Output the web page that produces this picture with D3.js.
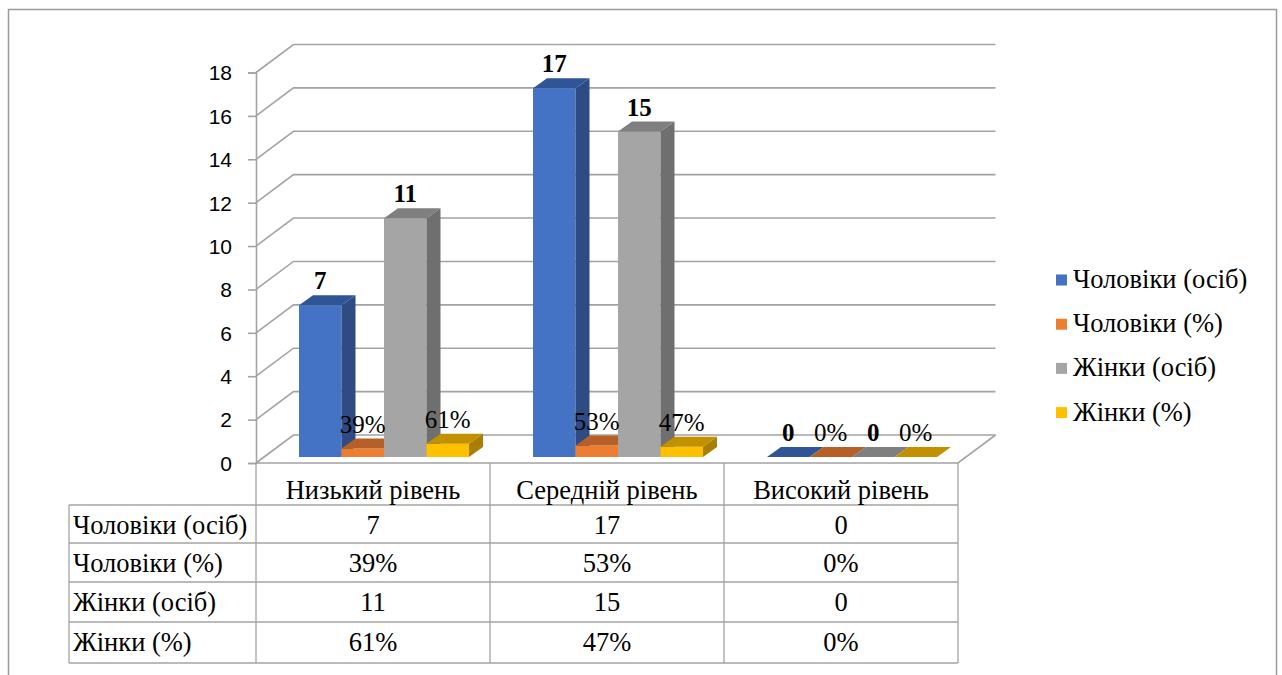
<!DOCTYPE html>
<html>
<head>
<meta charset="utf-8">
<script src="https://cdn.jsdelivr.net/npm/d3@7"></script>
<style>
  html, body { margin: 0; padding: 0; background: #fff; }
  svg { display: block; }
</style>
</head>
<body>
<svg id="chart" width="1282" height="675"></svg>
<script>
// Categories and series
const categories = ["Низький рівень", "Середній рівень", "Високий рівень"];
const seriesNames = ["Чоловіки (осіб)", "Чоловіки (%)", "Жінки (осіб)", "Жінки (%)"];
const menCount = [7, 17, 0];
const menPct = [0.39, 0.53, 0];
const womenCount = [11, 15, 0];
const womenPct = [0.61, 0.47, 0];
const yTicks = [0, 2, 4, 6, 8, 10, 12, 14, 16, 18];

const seriesValues = [menCount, menPct, womenCount, womenPct];
const isPct = [false, true, false, true];
const fmt = (v, pct) => pct ? Math.round(v * 100) + "%" : String(v);

// Face colours per series: front, side, top
const colors = [
  { front: "#4472C4", side: "#2E4B84", top: "#2F5597" },
  { front: "#ED7D31", side: "#A9561F", top: "#B65F26" },
  { front: "#A5A5A5", side: "#6F6F6F", top: "#7F7F7F" },
  { front: "#FFC000", side: "#A87F00", top: "#C29100" }
];

const svg = d3.select("#chart");
const serif = "'Liberation Serif', 'Times New Roman', serif";
const sans = "'Liberation Sans', Arial, sans-serif";
const lineColor = "#a3a3a3";

// outer frame
svg.append("rect").attr("x", 8.5).attr("y", 9.5).attr("width", 1268).attr("height", 700)
  .attr("fill", "none").attr("stroke", "#9a9a9a").attr("stroke-width", 1.5);

// scales
const y = d3.scaleLinear().domain([0, 18]).range([463, 72.5]);
const x = d3.scaleBand().domain(categories).range([256, 958]);
const xs = d3.scaleBand().domain(seriesNames).range([32, 202]);
const wall = { dx: 37.5, dy: -28 };   // depth of the chart box
const barOff = { dx: 11, dy: -6 };    // bar front plane offset
const barDepth = { dx: 14, dy: -10 }; // bar thickness

// back wall gridlines + left wall diagonals
const grid = svg.append("g").attr("stroke", lineColor).attr("stroke-width", 1.6).attr("fill", "none");
yTicks.forEach(t => {
  const yf = y(t);
  grid.append("path").attr("d",
    `M${x.range()[0]},${yf} L${x.range()[0] + wall.dx},${yf + wall.dy} L${x.range()[1] + wall.dx},${yf + wall.dy}`);
});
// floor front edge and right edge
grid.append("path").attr("d",
  `M${x.range()[0]},${y(0)} L${x.range()[1]},${y(0)} L${x.range()[1] + wall.dx},${y(0) + wall.dy}`);

// y axis with ticks
const axis = d3.axisLeft(y).tickValues(yTicks).tickSize(8).tickPadding(16);
const ag = svg.append("g").attr("transform", `translate(${x.range()[0]},0)`).call(axis);
ag.select(".domain").attr("stroke", lineColor).attr("stroke-width", 1.6);
ag.selectAll(".tick line").attr("stroke", lineColor).attr("stroke-width", 1.6);
ag.selectAll(".tick text").style("font-family", sans).style("font-size", "21px").attr("fill", "#000")
  .attr("dy", "0.35em");

// bars
const barsG = svg.append("g");
const labelsG = svg.append("g");
const bw = xs.bandwidth();
categories.forEach((cat, ci) => {
  seriesNames.forEach((s, si) => {
    const v = seriesValues[si][ci];
    const x0 = x(cat) + xs(s) + barOff.dx;
    const x1 = x0 + bw;
    const yb = y(0) + barOff.dy;
    const yt = y(v) + barOff.dy;
    const c = colors[si];
    const g = barsG.append("g");
    if (yb - yt > 0.1) {
      g.append("path").attr("fill", c.front)
        .attr("d", `M${x0},${yb} L${x1},${yb} L${x1},${yt} L${x0},${yt}Z`);
      g.append("path").attr("fill", c.side)
        .attr("d", `M${x1},${yb} L${x1 + barDepth.dx},${yb + barDepth.dy} L${x1 + barDepth.dx},${yt + barDepth.dy} L${x1},${yt}Z`);
    }
    g.append("path").attr("fill", c.top)
      .attr("d", `M${x0},${yt} L${x1},${yt} L${x1 + barDepth.dx},${yt + barDepth.dy} L${x0 + barDepth.dx},${yt + barDepth.dy}Z`);

    labelsG.append("text")
      .attr("x", (x0 + x1) / 2)
      .attr("y", yt + barDepth.dy - 6)
      .attr("text-anchor", "middle")
      .style("font-family", serif)
      .style("font-size", "25px")
      .style("font-weight", isPct[si] ? "normal" : "bold")
      .attr("fill", "#000")
      .text(fmt(v, isPct[si]));
  });
});

// data table
const tbl = svg.append("g");
const tLeft = 69, tTop = y(0);
const rowLines = [505, 543, 582, 622, 663];
const colLines = [x.range()[0]].concat(categories.map(c => x(c) + x.bandwidth()));
const tl = tbl.append("g").attr("stroke", lineColor).attr("stroke-width", 1.3);
colLines.forEach(cx => tl.append("line").attr("x1", cx).attr("x2", cx).attr("y1", tTop).attr("y2", rowLines[rowLines.length - 1]));
rowLines.forEach(ry => tl.append("line").attr("x1", tLeft).attr("x2", x.range()[1]).attr("y1", ry).attr("y2", ry));
tl.append("line").attr("x1", tLeft).attr("x2", tLeft).attr("y1", rowLines[0]).attr("y2", rowLines[rowLines.length - 1]);

const tt = tbl.append("g").style("font-family", serif).style("font-size", "26.5px").attr("fill", "#000");
categories.forEach(cat => {
  tt.append("text").attr("x", x(cat) + x.bandwidth() / 2).attr("y", 499)
    .attr("text-anchor", "middle").text(cat);
});
seriesNames.forEach((s, si) => {
  const by = rowLines[si] + 28.5;
  tt.append("text").attr("x", tLeft + 4).attr("y", by).text(s);
  categories.forEach((cat, ci) => {
    tt.append("text").attr("x", x(cat) + x.bandwidth() / 2).attr("y", by)
      .attr("text-anchor", "middle").text(fmt(seriesValues[si][ci], isPct[si]));
  });
});

// legend
const lg = svg.append("g").style("font-family", serif).style("font-size", "26.5px");
seriesNames.forEach((s, si) => {
  const cy = 280 + si * 44.2;
  lg.append("rect").attr("x", 1056).attr("y", cy - 5.5).attr("width", 11).attr("height", 11)
    .attr("fill", colors[si].front);
  lg.append("text").attr("x", 1073).attr("y", cy + 8).attr("fill", "#000").text(s);
});
</script>
</body>
</html>
